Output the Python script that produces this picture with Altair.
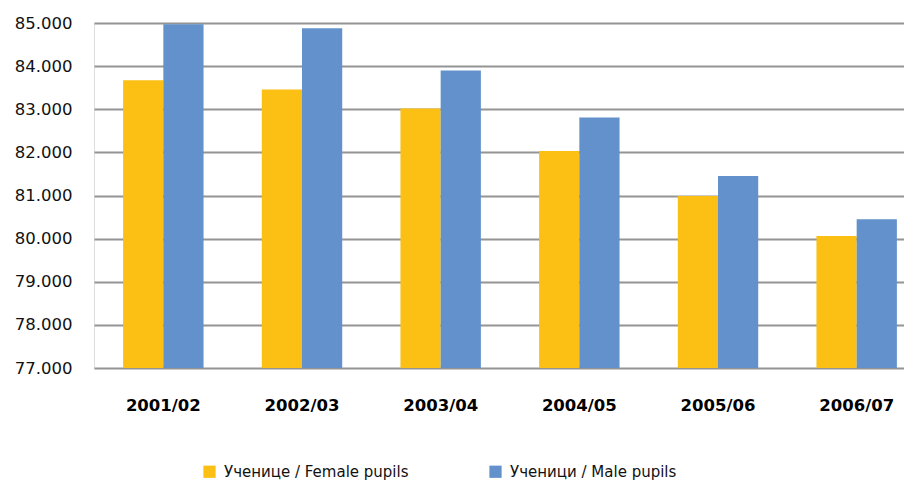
import altair as alt
import pandas as pd

years = ["2001/02", "2002/03", "2003/04", "2004/05", "2005/06", "2006/07"]
female = [83670, 83460, 83015, 82030, 80990, 80060]
male = [84970, 84876, 83900, 82810, 81450, 80450]
series = ["Ученице / Female pupils", "Ученици / Male pupils"]
colors = ["#FCBF13", "#6391CB"]
y_ticks = [77000, 78000, 79000, 80000, 81000, 82000, 83000, 84000, 85000]

rows = []
for i, y in enumerate(years):
    rows.append({"year": y, "series": series[0], "value": female[i]})
    rows.append({"year": y, "series": series[1], "value": male[i]})
df = pd.DataFrame(rows)

font = "DejaVu Sans"

chart = alt.Chart(df).mark_bar(clip=True).encode(
    x=alt.X("year:N", sort=years, title=None,
            scale=alt.Scale(range=[0, 832], paddingInner=0.42, paddingOuter=0.21),
            axis=alt.Axis(labelAngle=0, labelFont=font, labelFontSize=16.5,
                          labelFontWeight="bold", labelColor="#000000",
                          labelPadding=29, ticks=False, domain=False, grid=False)),
    xOffset=alt.XOffset("series:N", sort=series,
                        scale=alt.Scale(paddingInner=0, paddingOuter=0)),
    y=alt.Y("value:Q", title=None,
            scale=alt.Scale(domain=[77000, 85000], zero=False, nice=False),
            axis=alt.Axis(values=y_ticks,
                          labelExpr="replace(format(datum.value, ',.0f'), ',', '.')",
                          labelFont=font, labelFontSize=16.5, labelColor="#111111",
                          labelPadding=22, ticks=False, domain=False,
                          grid=True, gridColor="#949494", gridWidth=1.8)),
    y2=alt.datum(77000),
    color=alt.Color("series:N", sort=series,
                    scale=alt.Scale(domain=series, range=colors),
                    legend=alt.Legend(title=None, orient="none", direction="horizontal",
                                      legendX=108, legendY=441,
                                      symbolType="square", symbolSize=150,
                                      symbolStrokeWidth=0, symbolOpacity=1,
                                      labelFont=font, labelFontSize=15, labelLimit=400,
                                      labelColor="#111111", columnPadding=79,
                                      labelOffset=7)),
).properties(
    width=810, height=345,
    autosize=alt.AutoSizeParams(type="none"),
    padding={"left": 86, "top": 15, "right": 0, "bottom": 116},
).configure_view(stroke=None).configure(background="white")

chart.save("out.html", embed_options={"renderer": "svg", "actions": False})
